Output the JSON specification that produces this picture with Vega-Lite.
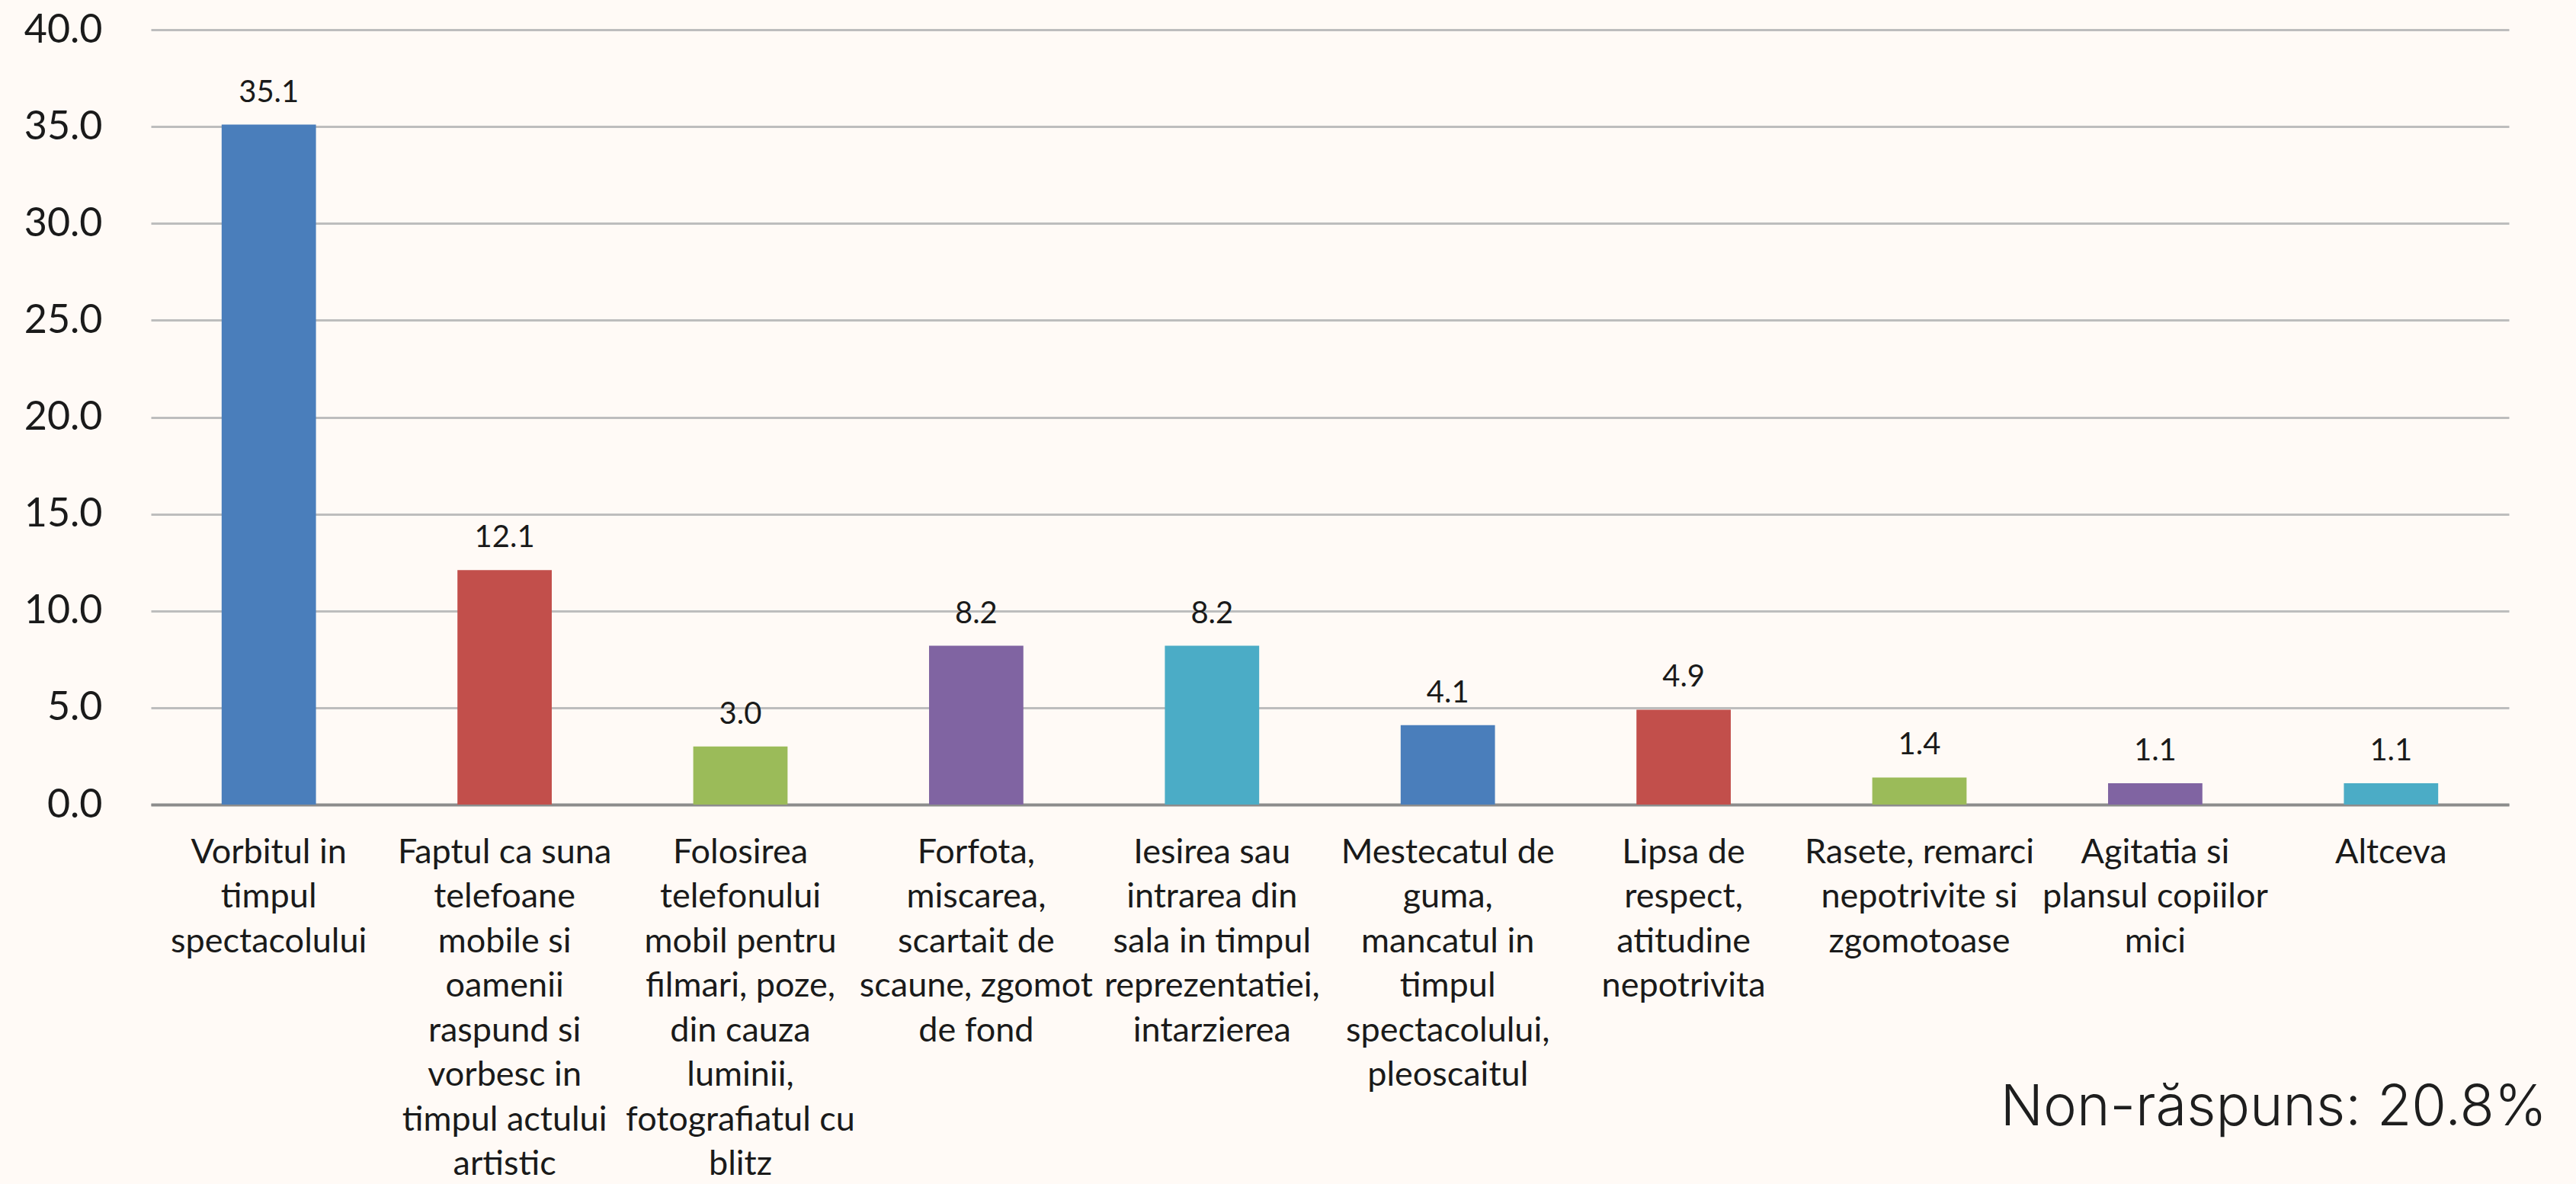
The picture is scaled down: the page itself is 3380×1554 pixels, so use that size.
{
  "$schema": "https://vega.github.io/schema/vega-lite/v6.json",
  "autosize": {"type": "none"},
  "width": 3094,
  "height": 1017,
  "padding": {"left": 198, "top": 39, "right": 88, "bottom": 498},
  "background": "#fffaf6",
  "config": {
    "view": {"stroke": null},
    "font": "Lato",
    "axis": {"labelFont": "Lato", "labelColor": "#1a1a1a"}
  },
  "title": {
    "text": "Non-răspuns: 20.8%",
    "orient": "bottom",
    "anchor": "end",
    "frame": "group",
    "font": "Inter",
    "fontSize": 74,
    "fontWeight": 300,
    "color": "#1e1e1e",
    "baseline": "alphabetic",
    "offset": 0,
    "dy": -74,
    "dx": 50
  },
  "data": {
    "values": [
      {"cat": "Vorbitul in|timpul|spectacolului", "value": 35.1, "grp": "c1"},
      {"cat": "Faptul ca suna|telefoane|mobile si|oamenii|raspund si|vorbesc in|timpul actului|artistic", "value": 12.1, "grp": "c2"},
      {"cat": "Folosirea|telefonului|mobil pentru|filmari, poze,|din cauza|luminii,|fotografiatul cu|blitz", "value": 3.0, "grp": "c3"},
      {"cat": "Forfota,|miscarea,|scartait de|scaune, zgomot|de fond", "value": 8.2, "grp": "c4"},
      {"cat": "Iesirea sau|intrarea din|sala in timpul|reprezentatiei,|intarzierea", "value": 8.2, "grp": "c5"},
      {"cat": "Mestecatul de|guma,|mancatul in|timpul|spectacolului,|pleoscaitul", "value": 4.1, "grp": "c1"},
      {"cat": "Lipsa de|respect,|atitudine|nepotrivita", "value": 4.9, "grp": "c2"},
      {"cat": "Rasete, remarci|nepotrivite si|zgomotoase", "value": 1.4, "grp": "c3"},
      {"cat": "Agitatia si|plansul copiilor|mici", "value": 1.1, "grp": "c4"},
      {"cat": "Altceva", "value": 1.1, "grp": "c5"}
    ]
  },
  "encoding": {
    "x": {
      "field": "cat",
      "type": "nominal",
      "sort": null,
      "scale": {"paddingInner": 0.6, "paddingOuter": 0.3},
      "axis": {
        "title": null,
        "labelAngle": 0,
        "labelExpr": "split(datum.value, '|')",
        "labelFontSize": 45,
        "labelLineHeight": 58.5,
        "labelBaseline": "top",
        "labelPadding": 40,
        "labelLimit": 0,
        "ticks": false,
        "domain": true,
        "domainColor": "#8c8c8c",
        "domainWidth": 4,
        "grid": false
      }
    },
    "y": {
      "field": "value",
      "type": "quantitative",
      "scale": {"domain": [0, 40], "nice": false},
      "axis": {
        "title": null,
        "values": [0, 5, 10, 15, 20, 25, 30, 35, 40],
        "format": ".1f",
        "labelFontSize": 52,
        "labelPadding": 64,
        "ticks": false,
        "domain": false,
        "grid": true,
        "gridColor": "#bdbdbd",
        "gridWidth": 3
      }
    }
  },
  "layer": [
    {
      "mark": {"type": "bar"},
      "encoding": {
        "color": {
          "field": "grp",
          "type": "nominal",
          "legend": null,
          "scale": {
            "domain": ["c1", "c2", "c3", "c4", "c5"],
            "range": ["#4a7ebb", "#c24f4b", "#9bbb59", "#8064a2", "#4bacc6"]
          }
        }
      }
    },
    {
      "mark": {"type": "text", "baseline": "bottom", "dy": -22, "fontSize": 40, "font": "Lato", "color": "#1a1a1a"},
      "encoding": {
        "text": {"field": "value", "type": "quantitative", "format": ".1f"}
      }
    }
  ]
}
